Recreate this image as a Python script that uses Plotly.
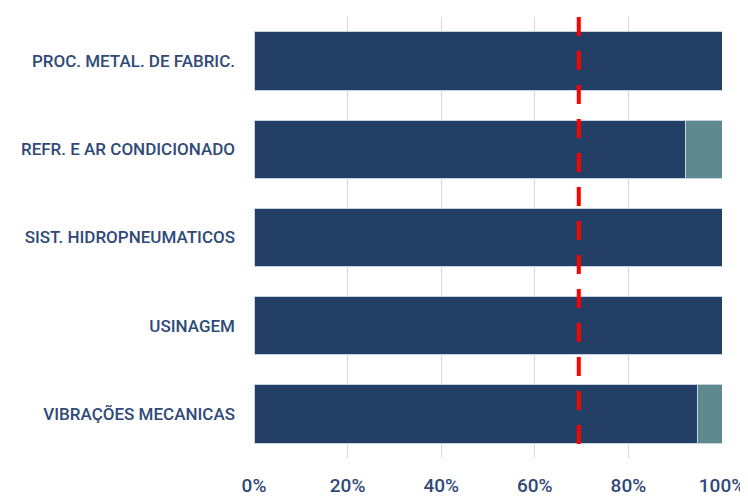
import plotly.graph_objects as go

categories = ["PROC. METAL. DE FABRIC.", "REFR. E AR CONDICIONADO", "SIST. HIDROPNEUMATICOS",
              "USINAGEM", "VIBRAÇÕES MECANICAS"]
serie_a = [1.0, 0.922, 1.0, 1.0, 0.948]
serie_b = [0.0, 0.078, 0.0, 0.0, 0.052]
meta = 0.694
x_ticks = [0, 0.2, 0.4, 0.6, 0.8, 1.0]
x_tick_labels = ["0%", "20%", "40%", "60%", "80%", "100%"]

font_family = "Roboto, sans-serif"
label_color = "#2F4A78"

fig = go.Figure()
fig.add_trace(go.Bar(y=categories, x=serie_a, orientation="h",
                     marker=dict(color="#243F66", line=dict(color="#C9D2DE", width=1))))
fig.add_trace(go.Bar(y=categories, x=serie_b, orientation="h",
                     marker=dict(color="#5F8A8D", line=dict(color="#C9D2DE", width=1))))

fig.add_shape(type="line", x0=meta, x1=meta, xref="x", y0=1.0, y1=0.018, yref="paper",
              line=dict(color="#FF0000", width=4, dash="19px,15px"))

fig.update_layout(
    barmode="stack", bargap=0.34, showlegend=False,
    width=740, height=488,
    margin=dict(l=246, r=26, t=9, b=38),
    plot_bgcolor="white", paper_bgcolor="white",
    font=dict(family=font_family, color=label_color),
)
fig.update_xaxes(range=[0, 1], tickvals=x_ticks, ticktext=x_tick_labels,
                 showgrid=True, gridcolor="#D9D9D9", gridwidth=1,
                 zeroline=False, showline=False, automargin=False,
                 tickfont=dict(size=19, family=font_family, color=label_color, weight=500),
                 ticklen=0, ticks="", ticklabelstandoff=14)
fig.update_yaxes(categoryorder="array", categoryarray=categories[::-1],
                 showgrid=False, zeroline=False, showline=False, automargin=False,
                 tickfont=dict(size=17, family=font_family, color=label_color, weight=500),
                 ticks="", ticklabelstandoff=18)

fig.write_html("out.html")
